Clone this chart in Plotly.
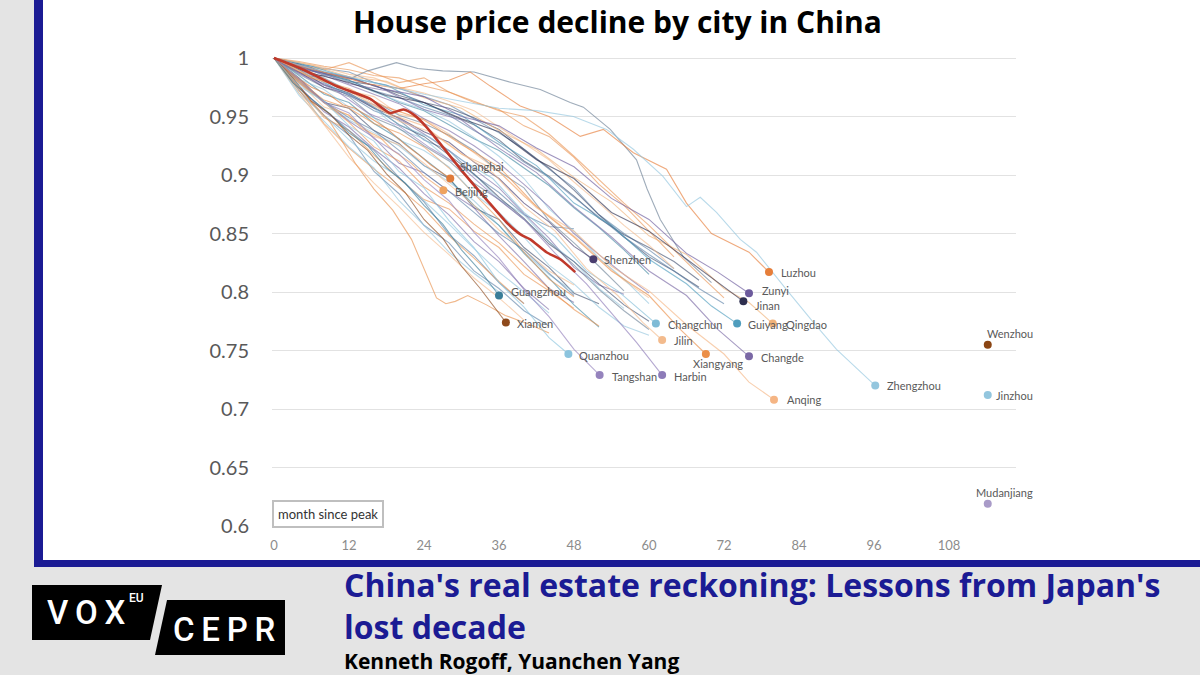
import plotly.graph_objects as go

# ---------------- DATA ----------------
y_ticks = [0.6, 0.65, 0.7, 0.75, 0.8, 0.85, 0.9, 0.95, 1.0]
y_tick_text = ["0.6", "0.65", "0.7", "0.75", "0.8", "0.85", "0.9", "0.95", "1"]
x_ticks = [0, 12, 24, 36, 48, 60, 72, 84, 96, 108]

# thick red line (unlabelled)
red_m = [0, 2, 4.7, 7, 10, 12.5, 15.4, 18.6, 20.7, 22.5, 24.4, 27, 30.3, 34, 37.3, 39.5, 41, 43.6, 45.8, 48.2]
red_v = [1.0, 0.996, 0.99, 0.984, 0.976, 0.971, 0.965, 0.953, 0.956, 0.951, 0.941, 0.924, 0.902, 0.879, 0.859, 0.849, 0.845, 0.834, 0.828, 0.817]

# labelled cities (line ends at the labelled marker)
shanghai_m = [0, 2, 4, 6, 9, 11, 13, 16, 18, 21, 23, 25, 28.2]
shanghai_v = [1.0, 0.99, 0.982, 0.975, 0.968, 0.96, 0.957, 0.947, 0.94, 0.926, 0.918, 0.909, 0.897]
beijing_m = [0, 2, 4, 7, 9, 12, 14, 17, 19, 22, 24, 27.1]
beijing_v = [1.0, 0.988, 0.979, 0.966, 0.958, 0.951, 0.94, 0.932, 0.921, 0.91, 0.899, 0.887]
guangzhou_m = [0, 3, 6, 9, 12, 15, 18, 21, 24, 27, 30, 33, 36]
guangzhou_v = [1.0, 0.979, 0.965, 0.952, 0.936, 0.925, 0.906, 0.893, 0.874, 0.858, 0.836, 0.818, 0.797]
xiamen_m = [0, 3, 6, 9, 12, 15, 18, 21, 24, 27, 30, 33, 37.1]
xiamen_v = [1.0, 0.983, 0.963, 0.952, 0.934, 0.921, 0.901, 0.885, 0.862, 0.846, 0.822, 0.803, 0.774]
shenzhen_m = [0, 4, 8, 12, 16, 20, 24, 28, 32, 36, 40, 44, 48, 51.1]
shenzhen_v = [1.0, 0.988, 0.975, 0.969, 0.957, 0.949, 0.937, 0.928, 0.911, 0.897, 0.876, 0.86, 0.839, 0.828]
quanzhou_m = [0, 4, 8, 12, 16, 20, 24, 28, 32, 36, 40, 44, 47.1]
quanzhou_v = [1.0, 0.976, 0.963, 0.942, 0.929, 0.903, 0.889, 0.861, 0.838, 0.808, 0.787, 0.761, 0.747]
tangshan_m = [0, 4, 8, 12, 16, 20, 24, 28, 32, 36, 40, 44, 48, 52.1]
tangshan_v = [1.0, 0.982, 0.962, 0.953, 0.931, 0.918, 0.896, 0.878, 0.851, 0.829, 0.802, 0.779, 0.751, 0.729]
harbin_m = [0, 5, 10, 15, 20, 25, 30, 35, 40, 45, 50, 55, 58, 62.1]
harbin_v = [1.0, 0.984, 0.972, 0.953, 0.942, 0.923, 0.907, 0.883, 0.862, 0.833, 0.807, 0.776, 0.757, 0.729]
changchun_m = [0, 5, 10, 15, 20, 25, 30, 35, 40, 45, 50, 55, 61.1]
changchun_v = [1.0, 0.989, 0.973, 0.962, 0.943, 0.932, 0.913, 0.897, 0.868, 0.847, 0.818, 0.801, 0.773]
jilin_m = [0, 5, 10, 15, 20, 25, 30, 35, 40, 45, 50, 55, 59, 62.1]
jilin_v = [1.0, 0.991, 0.976, 0.964, 0.946, 0.937, 0.918, 0.902, 0.873, 0.852, 0.82, 0.797, 0.774, 0.759]
xiangyang_m = [0, 6, 12, 18, 24, 30, 36, 42, 48, 54, 60, 65, 69.1]
xiangyang_v = [1.0, 0.983, 0.974, 0.958, 0.947, 0.926, 0.907, 0.873, 0.847, 0.818, 0.797, 0.768, 0.747]
changde_m = [0, 6, 12, 18, 24, 30, 36, 42, 48, 54, 60, 66, 71, 76]
changde_v = [1.0, 0.991, 0.978, 0.972, 0.956, 0.947, 0.923, 0.902, 0.873, 0.847, 0.818, 0.797, 0.768, 0.745]
guiyang_m = [0, 6, 12, 18, 24, 30, 36, 42, 48, 54, 60, 66, 70, 74.1]
guiyang_v = [1.0, 0.993, 0.983, 0.977, 0.96, 0.951, 0.928, 0.908, 0.876, 0.857, 0.828, 0.807, 0.788, 0.773]
qingdao_m = [0, 6, 12, 18, 24, 30, 36, 42, 48, 54, 60, 66, 72, 76, 79.8]
qingdao_v = [1.0, 0.994, 0.984, 0.98, 0.966, 0.957, 0.938, 0.922, 0.898, 0.877, 0.848, 0.832, 0.803, 0.791, 0.773]
zunyi_m = [0, 6, 12, 18, 24, 30, 36, 42, 48, 54, 60, 66, 71, 76]
zunyi_v = [1.0, 0.989, 0.983, 0.973, 0.967, 0.95, 0.942, 0.923, 0.907, 0.88, 0.862, 0.833, 0.817, 0.799]
jinan_m = [0, 6, 12, 18, 24, 30, 36, 42, 48, 54, 60, 66, 70, 75.1]
jinan_v = [1.0, 0.987, 0.979, 0.968, 0.962, 0.948, 0.937, 0.913, 0.897, 0.868, 0.852, 0.828, 0.812, 0.792]
luzhou_m = [0, 5, 10, 15, 20, 24, 28, 31.4, 34.6, 39.4, 44, 49, 52.7, 57.5, 62.8, 66, 70, 76, 79.2]
luzhou_v = [1.0, 0.992, 0.985, 0.978, 0.974, 0.978, 0.981, 0.988, 0.976, 0.959, 0.95, 0.933, 0.939, 0.919, 0.905, 0.876, 0.85, 0.834, 0.817]
anqing_m = [0, 6, 12, 18, 24, 30, 36, 42, 48, 54, 60, 66, 72, 76, 80]
anqing_v = [1.0, 0.984, 0.972, 0.953, 0.942, 0.918, 0.903, 0.872, 0.852, 0.822, 0.801, 0.772, 0.747, 0.723, 0.708]
zhengzhou_m = [0, 6, 12, 18, 24, 30, 36, 42, 47.9, 53.2, 57.5, 62.2, 66, 68.2, 70.8, 74.6, 77.2, 82, 86.3, 90, 96.2]
zhengzhou_v = [1.0, 0.991, 0.984, 0.976, 0.969, 0.963, 0.957, 0.955, 0.95, 0.939, 0.922, 0.899, 0.873, 0.881, 0.868, 0.845, 0.834, 0.802, 0.774, 0.751, 0.72]

# isolated end points
wenzhou_m, wenzhou_v = [114.2], [0.755]
jinzhou_m, jinzhou_v = [114.2], [0.712]
mudanjiang_m, mudanjiang_v = [114.2], [0.619]

# unlabelled cities with irregular months
steep_m = [0, 2, 4, 7, 9, 11, 13, 16, 19, 22, 24, 26, 27.5, 29, 31, 34, 37, 41, 44]
steep_v = [1.0, 0.988, 0.975, 0.957, 0.945, 0.928, 0.91, 0.888, 0.87, 0.845, 0.82, 0.795, 0.79, 0.792, 0.797, 0.789, 0.78, 0.772, 0.765]
top_m = [0, 3, 6, 9, 12, 15, 19.6, 23, 27, 32, 38, 42.6, 47.4, 49.5, 53.8, 58, 59.7, 61.8, 65.5, 70]
top_v = [1.0, 0.99, 0.984, 0.986, 0.982, 0.989, 0.996, 0.991, 0.989, 0.988, 0.979, 0.973, 0.962, 0.958, 0.939, 0.913, 0.888, 0.862, 0.83, 0.808]

# unlabelled cities sampled every 4 months
months_grid = [0, 4, 8, 12, 16, 20, 24, 28, 32, 36, 40, 44, 48, 52, 56, 60, 64, 68, 72]
u01 = [1.0, 0.972, 0.951, 0.934, 0.903, 0.884, 0.857, 0.842, 0.818, 0.803, 0.784, 0.771]
u02 = [1.0, 0.975, 0.949, 0.938, 0.917, 0.897, 0.879, 0.871, 0.852, 0.838, 0.815, 0.801, 0.786]
u03 = [1.0, 0.983, 0.962, 0.957, 0.938, 0.927, 0.908, 0.897, 0.872, 0.862, 0.838, 0.821, 0.799, 0.79]
u04 = [1.0, 0.978, 0.962, 0.947, 0.936, 0.925, 0.908, 0.894, 0.878, 0.857, 0.834, 0.815, 0.8]
u05 = [1.0, 0.979, 0.963, 0.946, 0.932, 0.91, 0.902, 0.886, 0.872, 0.848, 0.826, 0.803, 0.791]
u06 = [1.0, 0.991, 0.979, 0.968, 0.955, 0.947, 0.93, 0.921, 0.9, 0.885, 0.866, 0.856, 0.854]
u07 = [1.0, 0.992, 0.981, 0.972, 0.967, 0.952, 0.948, 0.935, 0.919, 0.903, 0.882, 0.865, 0.848, 0.829, 0.81, 0.795]
u08 = [1.0, 0.994, 0.99, 0.996, 0.987, 0.979, 0.983, 0.971, 0.962, 0.956, 0.942, 0.933, 0.915, 0.892, 0.874, 0.852, 0.83]
u09 = [1.0, 0.995, 0.991, 0.988, 0.979, 0.974, 0.967, 0.96, 0.948, 0.936, 0.922, 0.905, 0.889, 0.866, 0.85, 0.836, 0.82]
u10 = [1.0, 0.993, 0.987, 0.98, 0.977, 0.968, 0.962, 0.952, 0.943, 0.93, 0.912, 0.899, 0.882, 0.863, 0.849, 0.838, 0.826, 0.81]
u11 = [1.0, 0.985, 0.969, 0.962, 0.944, 0.931, 0.914, 0.897, 0.874, 0.857, 0.833, 0.812, 0.789, 0.77]
u12 = [1.0, 0.97, 0.951, 0.93, 0.912, 0.898, 0.878, 0.858, 0.837, 0.817, 0.8, 0.782]
u13 = [1.0, 0.987, 0.978, 0.968, 0.96, 0.948, 0.935, 0.921, 0.905, 0.889, 0.867, 0.846, 0.821, 0.806, 0.798]
u14 = [1.0, 0.981, 0.964, 0.957, 0.944, 0.936, 0.924, 0.906, 0.884, 0.862, 0.834, 0.811, 0.796]
u15 = [1.0, 0.974, 0.956, 0.938, 0.921, 0.898, 0.877, 0.849, 0.831, 0.808, 0.79]
u16 = [1.0, 0.979, 0.958, 0.951, 0.933, 0.926, 0.91, 0.892, 0.874, 0.853, 0.836, 0.818, 0.806]
u17 = [1.0, 0.992, 0.983, 0.972, 0.963, 0.951, 0.944, 0.934, 0.921, 0.903, 0.889, 0.861, 0.842, 0.822, 0.801]
u18 = [1.0, 0.99, 0.981, 0.969, 0.957, 0.939, 0.931, 0.913, 0.901, 0.879, 0.866, 0.843, 0.826, 0.803, 0.786]
u19 = [1.0, 0.995, 0.988, 0.984, 0.976, 0.97, 0.962, 0.957, 0.949, 0.939, 0.922, 0.906, 0.887, 0.866, 0.847, 0.83, 0.818, 0.804]
u20 = [1.0, 0.973, 0.944, 0.923, 0.905, 0.889, 0.871, 0.848, 0.829, 0.809, 0.79]
u21 = [1.0, 0.992, 0.986, 0.981, 0.972, 0.966, 0.958, 0.951, 0.938, 0.926, 0.911, 0.898, 0.881, 0.864, 0.847, 0.832, 0.818, 0.803, 0.79]
u22 = [1.0, 0.976, 0.954, 0.941, 0.922, 0.906, 0.884, 0.866, 0.843, 0.826, 0.803, 0.785]
u23 = [1.0, 0.968, 0.946, 0.924, 0.906, 0.878, 0.857, 0.834, 0.816, 0.8]
u24 = [1.0, 0.996, 0.992, 0.986, 0.983, 0.975, 0.97, 0.963, 0.955, 0.941, 0.927, 0.913, 0.894, 0.876, 0.857, 0.84, 0.82]
u25 = [1.0, 0.992, 0.987, 0.981, 0.972, 0.962, 0.955, 0.943, 0.931, 0.921, 0.906, 0.891, 0.872, 0.855, 0.836, 0.815]
u26 = [1.0, 0.996, 0.986, 0.98, 0.971, 0.963, 0.956, 0.946, 0.932, 0.916, 0.897, 0.871, 0.852, 0.829, 0.811, 0.79]
u27 = [1.0, 0.997, 0.993, 0.99, 0.985, 0.983, 0.976, 0.971, 0.963, 0.955, 0.95, 0.935, 0.916, 0.896, 0.876, 0.857, 0.836, 0.815, 0.795]
u28 = [1.0, 0.98, 0.963, 0.949, 0.938, 0.921, 0.902, 0.886, 0.868, 0.85, 0.836, 0.816, 0.797]
u29 = [1.0, 0.99, 0.977, 0.97, 0.958, 0.943, 0.933, 0.917, 0.901, 0.881, 0.863, 0.841, 0.826, 0.807, 0.789, 0.775]
u30 = [1.0, 0.97, 0.943, 0.915, 0.893, 0.873, 0.851, 0.832, 0.812, 0.795, 0.776]
u31 = [1.0, 0.986, 0.975, 0.967, 0.949, 0.94, 0.925, 0.912, 0.893, 0.879, 0.862, 0.843, 0.823, 0.802, 0.784, 0.768]
u32 = [1.0, 0.982, 0.973, 0.958, 0.949, 0.93, 0.921, 0.907, 0.884, 0.868, 0.847, 0.823, 0.807, 0.787, 0.771, 0.763]
u33 = [1.0, 0.994, 0.985, 0.977, 0.969, 0.961, 0.948, 0.938, 0.925, 0.91, 0.892, 0.873, 0.85, 0.832, 0.815, 0.799]
u34 = [1.0, 0.981, 0.962, 0.945, 0.924, 0.912, 0.89, 0.876, 0.858, 0.842, 0.822, 0.803, 0.785, 0.771]

# ---------------- STYLE ----------------
SB, NV, OR, LO, LB, PU, TE, GR = ("#5a7fa6", "#3b4a6b", "#e8924f", "#f3b98a",
                                  "#8fc3dc", "#7b6aa6", "#3d86a0", "#6b7f95")
BLUE = "#1b1b94"
W, H = 1200, 675
L, R, T, B = 272, 1016, 54, 526


def px(x):
    return (x - L) / (R - L)


def py(y):
    return (B - y) / (B - T)


def rgba(hexc, a):
    h = hexc.lstrip("#")
    return "rgba(%d,%d,%d,%.2f)" % (int(h[0:2], 16), int(h[2:4], 16), int(h[4:6], 16), a)


fig = go.Figure()

unlabelled = [(u01, SB), (u02, OR), (u03, NV), (u04, LB), (u05, PU), (u06, SB), (u07, LO),
              (u08, OR), (u09, SB), (u10, NV), (u11, TE), (u12, LB), (u13, PU), (u14, OR),
              (u15, SB), (u16, LO), (u17, GR), (u18, LB), (u19, NV), (u20, OR), (u21, SB),
              (u22, PU), (u23, LB), (u24, LO), (u25, TE), (u26, LB), (u27, OR), (u28, SB),
              (u29, NV), (u30, LO), (u31, GR), (u32, LB), (u33, PU), (u34, OR)]
for vals, col in unlabelled:
    fig.add_trace(go.Scatter(x=months_grid[:len(vals)], y=vals, mode="lines",
                             line=dict(color=rgba(col, 0.62), width=1.1), hoverinfo="skip"))
for mm, vv, col in [(steep_m, steep_v, OR), (top_m, top_v, GR)]:
    fig.add_trace(go.Scatter(x=mm, y=vv, mode="lines",
                             line=dict(color=rgba(col, 0.65), width=1.1), hoverinfo="skip"))

# name, months, values, colour, (xshift, yshift, xanchor)
cities = [
    ("Shanghai", shanghai_m, shanghai_v, "#e07b39", (8, 12, "left")),
    ("Beijing", beijing_m, beijing_v, "#efa25e", (10, -1, "left")),
    ("Guangzhou", guangzhou_m, guangzhou_v, "#3a7d98", (10, 4, "left")),
    ("Xiamen", xiamen_m, xiamen_v, "#8e4a1c", (9, -1, "left")),
    ("Shenzhen", shenzhen_m, shenzhen_v, "#4a3d6e", (9, 0, "left")),
    ("Quanzhou", quanzhou_m, quanzhou_v, "#8cc4de", (9, -1, "left")),
    ("Tangshan", tangshan_m, tangshan_v, "#9583bd", (10, -1, "left")),
    ("Harbin", harbin_m, harbin_v, "#8d7bb8", (10, -1, "left")),
    ("Changchun", changchun_m, changchun_v, "#7fbbd6", (10, -1, "left")),
    ("Jilin", jilin_m, jilin_v, "#f3bb8d", (10, -1, "left")),
    ("Xiangyang", xiangyang_m, xiangyang_v, "#eb8f48", (12, -9, "center")),
    ("Changde", changde_m, changde_v, "#7a68a5", (10, -1, "left")),
    ("Guiyang", guiyang_m, guiyang_v, "#4f9dbd", (9, -1, "left")),
    ("Qingdao", qingdao_m, qingdao_v, "#f0b27a", (11, -1, "left")),
    ("Zunyi", zunyi_m, zunyi_v, "#6c5a9c", (11, 3, "left")),
    ("Jinan", jinan_m, jinan_v, "#2e2f4f", (10, -4, "left")),
    ("Luzhou", luzhou_m, luzhou_v, "#e67e3a", (10, 0, "left")),
    ("Anqing", anqing_m, anqing_v, "#f5b584", (11, 0, "left")),
    ("Zhengzhou", zhengzhou_m, zhengzhou_v, "#93c6de", (10, 0, "left")),
    ("Wenzhou", wenzhou_m, wenzhou_v, "#8b4513", (-3, 11, "left")),
    ("Jinzhou", jinzhou_m, jinzhou_v, "#93c6de", (6, -1, "left")),
    ("Mudanjiang", mudanjiang_m, mudanjiang_v, "#a99bc8", (-14, 11, "left")),
]

for name, mm, vv, col, _ in cities:
    if len(mm) > 1:
        fig.add_trace(go.Scatter(x=mm, y=vv, mode="lines",
                                 line=dict(color=rgba(col, 0.65), width=1.1), hoverinfo="skip"))

fig.add_trace(go.Scatter(x=red_m, y=red_v, mode="lines", line_shape="spline",
                         line=dict(color="#c0392b", width=2.6, smoothing=0.6), hoverinfo="skip"))

annotations = []
for name, mm, vv, col, (dx, dy, xa) in cities:
    fig.add_trace(go.Scatter(x=[mm[-1]], y=[vv[-1]], mode="markers", cliponaxis=False,
                             marker=dict(color=col, size=8), hoverinfo="skip"))
    annotations.append(dict(x=mm[-1], y=vv[-1], xref="x", yref="y", text=name,
                            showarrow=False, xanchor=xa, yanchor="middle", xshift=dx, yshift=dy,
                            font=dict(family="Lato", size=11, color="#595959")))

# chart title and card texts
annotations += [
    dict(x=px(617), y=py(22), xref="paper", yref="paper", text="<b>House price decline by city in China</b>",
         showarrow=False, xanchor="center", yanchor="middle",
         font=dict(family="Open Sans", size=30, color="#000000")),
    dict(x=px(328), y=py(514), xref="paper", yref="paper", text="month since peak",
         showarrow=False, xanchor="center", yanchor="middle", bgcolor="#ffffff",
         bordercolor="#bfbfbf", borderwidth=2, borderpad=4,
         font=dict(family="Lato", size=13, color="#333333")),
    dict(x=px(342), y=py(561), xref="paper", yref="paper",
         text="<b>China's real estate reckoning: Lessons from Japan's<br>lost decade</b>",
         showarrow=False, xanchor="left", yanchor="top", align="left",
         font=dict(family="Open Sans", size=32, color=BLUE)),
    dict(x=px(342), y=py(661), xref="paper", yref="paper", text="<b>Kenneth Rogoff, Yuanchen Yang</b>",
         showarrow=False, xanchor="left", yanchor="middle",
         font=dict(family="Open Sans", size=21, color="#000000")),
    dict(x=px(86), y=py(612), xref="paper", yref="paper", text="V\u2009O\u2009X",
         showarrow=False, xanchor="center", yanchor="middle",
         font=dict(family="Roboto", size=33, color="#ffffff", weight=500)),
    dict(x=px(136), y=py(598), xref="paper", yref="paper", text="EU",
         showarrow=False, xanchor="center", yanchor="middle",
         font=dict(family="Roboto", size=12, color="#ffffff", weight=500)),
    dict(x=px(224), y=py(629), xref="paper", yref="paper", text="C\u2009E\u2009P\u2009R",
         showarrow=False, xanchor="center", yanchor="middle",
         font=dict(family="Roboto", size=33, color="#ffffff", weight=500)),
]


def rect(x0, y0, x1, y1, color):
    return dict(type="rect", xref="paper", yref="paper", x0=px(x0), x1=px(x1), y0=py(y0), y1=py(y1),
                fillcolor=color, line=dict(width=0), layer="below")


def poly(points, color):
    path = "M " + " L ".join("%f,%f" % (px(a), py(b)) for a, b in points) + " Z"
    return dict(type="path", xref="paper", yref="paper", path=path, fillcolor=color,
                line=dict(width=0), layer="below")


shapes = [
    rect(43, 0, 1200, 560, "#ffffff"),
    rect(34, 0, 43, 567, BLUE),
    rect(34, 560, 1200, 567, BLUE),
    poly([(32, 585), (162, 585), (150, 640), (32, 640)], "#000000"),
    poly([(167, 600), (285, 600), (285, 655), (155, 655)], "#000000"),
]

fig.update_layout(
    width=W, height=H, autosize=False,
    margin=dict(l=L, r=W - R, t=T, b=H - B, pad=0),
    paper_bgcolor="#e4e4e4", plot_bgcolor="rgba(0,0,0,0)",
    showlegend=False, shapes=shapes, annotations=annotations,
    xaxis=dict(range=[-2 / 6.25, (R - L) / 6.25 - 2 / 6.25], tickvals=x_ticks, showgrid=False,
               zeroline=False, showline=False, ticks="", ticklabelstandoff=10,
               tickfont=dict(family="Lato", size=13, color="#8c8c8c")),
    yaxis=dict(range=[0.6, 0.6 + (B - T) / 1170], tickvals=y_ticks, ticktext=y_tick_text,
               showgrid=True, gridcolor="#e2e2e2", gridwidth=1, zeroline=False, showline=False,
               ticks="", ticklabelstandoff=22,
               tickfont=dict(family="Lato", size=20, color="#595959")),
)

fig.write_html("out.html")
